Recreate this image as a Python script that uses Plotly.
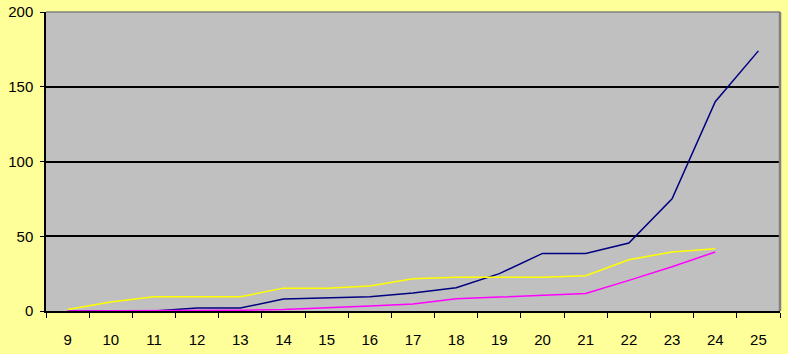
import plotly.graph_objects as go

# Categories along the x axis
categories = [str(d) for d in range(9, 26)]

# Series values
navy_vals = [0, 0, 0, 2, 2, 8, 9, 9.5, 12, 15.5, 25, 38.5, 38.5, 45.5, 75, 140, 174]
magenta_vals = [0, 0, 0, 0, 0.5, 1, 2, 3.3, 4.7, 8.2, 9.3, 10.3, 11.7, 20.5, 29.6, 39.5]
yellow_vals = [1, 6, 9.5, 9.5, 9.5, 15.3, 15.3, 16.7, 21.5, 22.5, 22.5, 22.5, 23.6, 34.3, 39.5, 41.7]

y_ticks = [0, 50, 100, 150, 200]

fig = go.Figure()
fig.add_trace(go.Scatter(x=categories[:len(navy_vals)], y=navy_vals, mode="lines",
                         line=dict(color="#000080", width=1.5), showlegend=False))
fig.add_trace(go.Scatter(x=categories[:len(magenta_vals)], y=magenta_vals, mode="lines",
                         line=dict(color="#FF00FF", width=1.5), showlegend=False))
fig.add_trace(go.Scatter(x=categories[:len(yellow_vals)], y=yellow_vals, mode="lines",
                         line=dict(color="#FFFF00", width=1.5), showlegend=False))

font = dict(family="Liberation Sans, Arial, sans-serif", size=15, color="#000000")

fig.update_layout(
    width=788, height=354,
    margin=dict(l=46, r=8, t=12, b=43, autoexpand=False),
    paper_bgcolor="#FFFF99",
    plot_bgcolor="#C0C0C0",
    font=font,
    xaxis=dict(
        type="category", categoryorder="array", categoryarray=categories,
        range=[-0.5, len(categories) - 0.5], automargin=False,
        tickson="boundaries", ticks="outside", ticklen=5, tickcolor="#000000",
        showgrid=False, showline=True, linecolor="#000000", linewidth=1.5,
        ticklabelstandoff=14, tickfont=font, zeroline=False,
    ),
    yaxis=dict(
        range=[0, 200], tickvals=y_ticks, ticktext=[str(v) for v in y_ticks],
        automargin=False,
        ticks="outside", ticklen=4, tickcolor="#000000",
        showgrid=True, gridcolor="#000000", gridwidth=1.5,
        showline=True, linecolor="#000000", linewidth=1.5,
        zeroline=False, tickfont=font, ticklabelstandoff=4,
    ),
    shapes=[
        dict(type="line", xref="paper", yref="paper", x0=0, x1=1, y0=1, y1=1,
             line=dict(color="#808080", width=1.5)),
        dict(type="line", xref="paper", yref="paper", x0=1, x1=1, y0=0, y1=1,
             line=dict(color="#808080", width=2.5)),
    ],
)

fig.write_html("out.html")
